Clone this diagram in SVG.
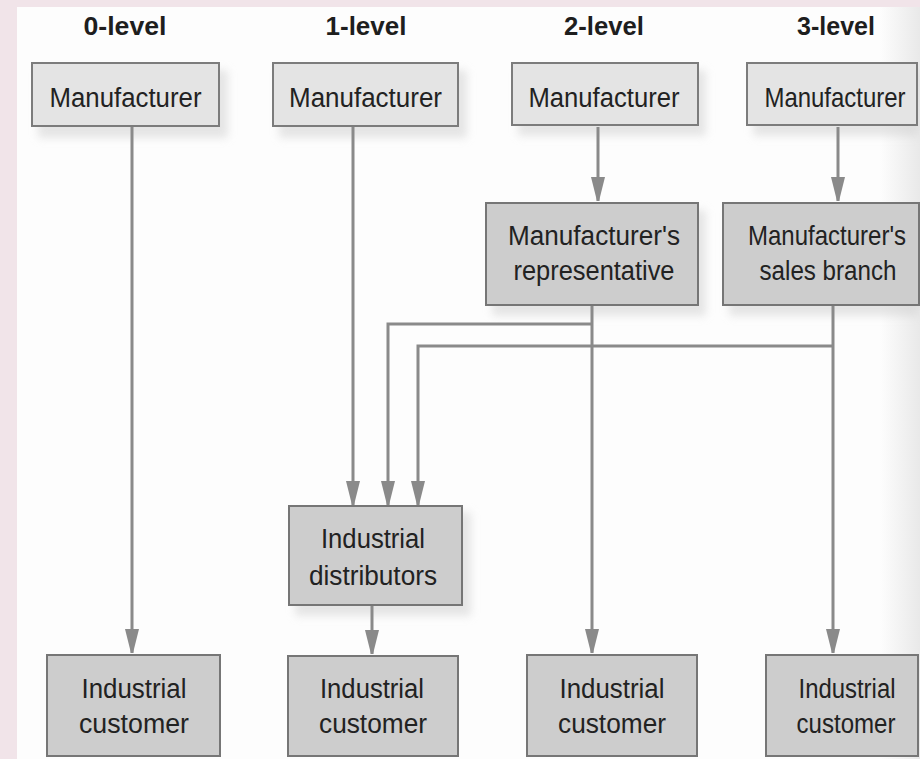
<svg xmlns="http://www.w3.org/2000/svg" width="920" height="759" viewBox="0 0 920 759">
  <style>
    .hdr { font-family: "Liberation Sans", Arial, sans-serif; font-weight: bold; font-size: 25px; fill: #1e1e1e; text-anchor: middle; }
    .lbl { font-family: "Liberation Sans", Arial, sans-serif; font-size: 27px; fill: #222; text-anchor: middle; }
    .light { fill: #e4e4e4; stroke: #7c7c7c; stroke-width: 2; }
    .dark { fill: #cdcdcd; stroke: #767676; stroke-width: 2; }
    .shadow { fill: #d2d2d2; opacity: 0.55; filter: url(#soft); }
    .wire { fill: none; stroke: #8a8a8a; stroke-width: 3; marker-end: url(#arrow); }
  </style>
  <defs>
    <filter id="soft" x="-20%" y="-20%" width="140%" height="140%">
      <feGaussianBlur stdDeviation="4"/>
    </filter>
    <marker id="arrow" viewBox="0 0 24 14" refX="24" refY="7" markerWidth="24" markerHeight="14" markerUnits="userSpaceOnUse" orient="auto">
      <path d="M0,0 L24,6 L24,8 L0,14 Z" fill="#8a8a8a"/>
    </marker>
    <linearGradient id="edge" x1="0" y1="0" x2="1" y2="0">
      <stop offset="0" stop-color="#e0e0e0" stop-opacity="0"/>
      <stop offset="1" stop-color="#e0e0e0" stop-opacity="0.7"/>
    </linearGradient>
  </defs>

  <!-- page and paper border -->
  <rect x="0" y="0" width="920" height="759" fill="#f1e4e9"/>
  <rect x="17" y="7" width="903" height="752" fill="#fdfdfd"/>
  <rect x="880" y="7" width="40" height="752" fill="url(#edge)"/>

  <!-- column headings -->
  <text class="hdr" x="125" y="35" textLength="83" lengthAdjust="spacingAndGlyphs">0-level</text>
  <text class="hdr" x="366" y="35" textLength="81" lengthAdjust="spacingAndGlyphs">1-level</text>
  <text class="hdr" x="604" y="35" textLength="80" lengthAdjust="spacingAndGlyphs">2-level</text>
  <text class="hdr" x="836" y="35" textLength="78" lengthAdjust="spacingAndGlyphs">3-level</text>

  <!-- soft shadows under the boxes -->
  <g id="shadows">
    <rect class="shadow" x="38" y="70" width="190" height="68"/>
    <rect class="shadow" x="279" y="70" width="188" height="68"/>
    <rect class="shadow" x="518" y="70" width="188" height="66"/>
    <rect class="shadow" x="753" y="70" width="166" height="66"/>
    <rect class="shadow" x="492" y="210" width="214" height="106"/>
    <rect class="shadow" x="729" y="210" width="190" height="106"/>
    <rect class="shadow" x="295" y="512" width="176" height="104"/>
  </g>

  <!-- connectors -->
  <g id="connectors">
    <path class="wire" d="M132,127 V653"/>
    <path class="wire" d="M353,127 V505"/>
    <path class="wire" d="M372,606 V654"/>
    <path class="wire" d="M598,127 V201"/>
    <path class="wire" d="M592,306 V653"/>
    <path class="wire" d="M592,324 H388 V505"/>
    <path class="wire" d="M838,127 V201"/>
    <path class="wire" d="M833,306 V653"/>
    <path class="wire" d="M833,346 H418 V505"/>
  </g>

  <!-- producers -->
  <g id="mfr-0">
    <rect class="light" x="32" y="63" width="187" height="63"/>
    <text class="lbl" x="125.5" y="107" textLength="152" lengthAdjust="spacingAndGlyphs">Manufacturer</text>
  </g>
  <g id="mfr-1">
    <rect class="light" x="273" y="63" width="185" height="63"/>
    <text class="lbl" x="365.5" y="107" textLength="153" lengthAdjust="spacingAndGlyphs">Manufacturer</text>
  </g>
  <g id="mfr-2">
    <rect class="light" x="512" y="63" width="186" height="62"/>
    <text class="lbl" x="604" y="107" textLength="151" lengthAdjust="spacingAndGlyphs">Manufacturer</text>
  </g>
  <g id="mfr-3">
    <rect class="light" x="747" y="63" width="170" height="62"/>
    <text class="lbl" transform="translate(835 107) scale(0.887 1)">Manufacturer</text>
  </g>

  <!-- intermediaries -->
  <g id="mfr-rep">
    <rect class="dark" x="486" y="203" width="212" height="102"/>
    <text class="lbl" x="594" y="245" textLength="172" lengthAdjust="spacingAndGlyphs">Manufacturer's</text>
    <text class="lbl" x="594" y="280" textLength="161" lengthAdjust="spacingAndGlyphs">representative</text>
  </g>
  <g id="sales-branch">
    <rect class="dark" x="723" y="203" width="196" height="102"/>
    <text class="lbl" transform="translate(827 245) scale(0.889 1)">Manufacturer's</text>
    <text class="lbl" x="828" y="280" textLength="137" lengthAdjust="spacingAndGlyphs">sales branch</text>
  </g>
  <g id="distributors">
    <rect class="dark" x="289" y="506" width="173" height="99"/>
    <text class="lbl" x="373" y="548" textLength="104" lengthAdjust="spacingAndGlyphs">Industrial</text>
    <text class="lbl" x="373" y="585" textLength="128" lengthAdjust="spacingAndGlyphs">distributors</text>
  </g>

  <!-- customers -->
  <g id="customer-0">
    <rect class="dark" x="47" y="655" width="173" height="101"/>
    <text class="lbl" x="134" y="698" textLength="105" lengthAdjust="spacingAndGlyphs">Industrial</text>
    <text class="lbl" x="134" y="733" textLength="110" lengthAdjust="spacingAndGlyphs">customer</text>
  </g>
  <g id="customer-1">
    <rect class="dark" x="288" y="656" width="170" height="100"/>
    <text class="lbl" x="372" y="698" textLength="104" lengthAdjust="spacingAndGlyphs">Industrial</text>
    <text class="lbl" x="373" y="733" textLength="108" lengthAdjust="spacingAndGlyphs">customer</text>
  </g>
  <g id="customer-2">
    <rect class="dark" x="527" y="655" width="170" height="101"/>
    <text class="lbl" x="612" y="698" textLength="105" lengthAdjust="spacingAndGlyphs">Industrial</text>
    <text class="lbl" x="612" y="733" textLength="108" lengthAdjust="spacingAndGlyphs">customer</text>
  </g>
  <g id="customer-3">
    <rect class="dark" x="766" y="655" width="152" height="101"/>
    <text class="lbl" x="847" y="698" textLength="97" lengthAdjust="spacingAndGlyphs">Industrial</text>
    <text class="lbl" x="846" y="733" textLength="99" lengthAdjust="spacingAndGlyphs">customer</text>
  </g>
</svg>
